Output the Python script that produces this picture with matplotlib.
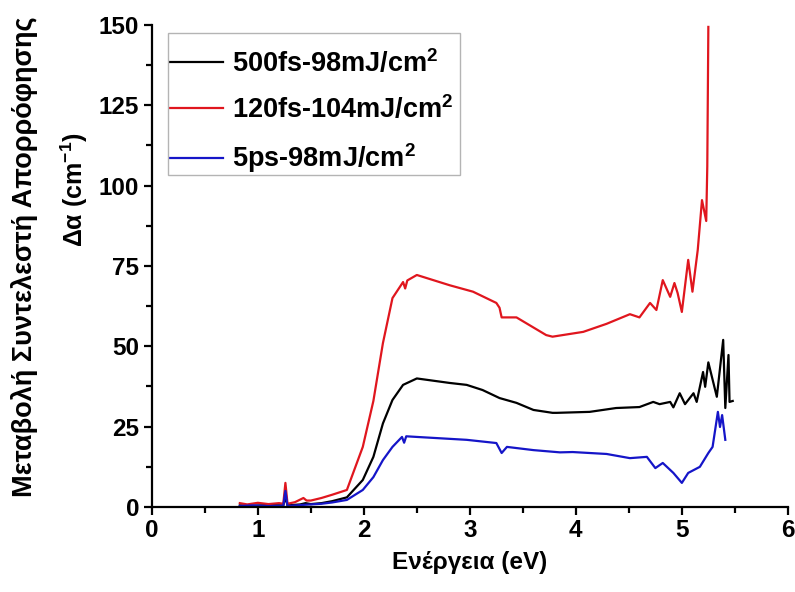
import numpy as np
import matplotlib.pyplot as plt
from matplotlib.patches import Rectangle

plt.rcParams['font.family'] = ['Liberation Sans', 'DejaVu Sans']
plt.rcParams['font.weight'] = 'bold'
plt.rcParams['mathtext.fontset'] = 'custom'
plt.rcParams['mathtext.rm'] = 'Liberation Sans:bold'
plt.rcParams['mathtext.it'] = 'Liberation Sans:bold'
plt.rcParams['mathtext.bf'] = 'Liberation Sans:bold'

# 500fs - 98 mJ/cm2
e_500fs = [0.83, 0.95, 1.10, 1.24, 1.26, 1.28, 1.40, 1.45, 1.50, 1.60, 1.70, 1.84, 1.99, 2.09,
           2.18, 2.27, 2.37, 2.50, 2.81, 2.97, 3.12, 3.28, 3.44, 3.60, 3.78, 3.82, 4.13, 4.38,
           4.60, 4.73, 4.79, 4.89, 4.92, 4.98, 5.03, 5.11, 5.14, 5.20, 5.22, 5.25, 5.33, 5.39,
           5.41, 5.44, 5.45, 5.48]
da_500fs = [0.5, 0.4, 0.6, 0.5, 3.0, 0.5, 0.8, 1.2, 0.9, 1.2, 1.8, 3.0, 8.4, 15.6,
            26.0, 33.3, 38.0, 40.0, 38.6, 38.0, 36.4, 33.9, 32.4, 30.2, 29.3, 29.3, 29.6, 30.8,
            31.1, 32.7, 32.0, 32.7, 31.0, 35.4, 32.0, 35.4, 32.7, 42.0, 37.4, 45.0, 34.3, 52.0,
            30.8, 47.3, 32.7, 33.0]

# 120fs - 104 mJ/cm2
e_120fs = [0.83, 0.90, 1.00, 1.10, 1.20, 1.24, 1.26, 1.28, 1.35, 1.43, 1.46, 1.50, 1.60, 1.70,
           1.84, 1.99, 2.09, 2.18, 2.27, 2.37, 2.39, 2.41, 2.50, 2.81, 3.03, 3.25, 3.28, 3.30,
           3.44, 3.72, 3.78, 4.07, 4.29, 4.51, 4.60, 4.70, 4.76, 4.82, 4.89, 4.93, 4.96, 5.00,
           5.06, 5.10, 5.15, 5.19, 5.23, 5.24, 5.25]
da_120fs = [1.2, 0.8, 1.3, 0.9, 1.2, 1.0, 7.5, 1.0, 1.5, 2.8, 2.0, 2.0, 2.8, 3.8,
            5.3, 18.7, 33.0, 51.0, 65.0, 70.0, 68.0, 70.5, 72.2, 69.0, 67.0, 63.5, 62.0, 59.0,
            59.0, 53.5, 53.0, 54.5, 57.0, 60.0, 59.0, 63.5, 61.3, 70.6, 65.4, 69.7, 66.6, 60.7,
            76.9, 67.0, 80.0, 95.5, 89.0, 106.0, 149.4]

# 5ps - 98 mJ/cm2
e_5ps = [0.83, 0.95, 1.10, 1.24, 1.26, 1.28, 1.40, 1.50, 1.60, 1.70, 1.84, 1.99, 2.09, 2.18,
         2.27, 2.36, 2.38, 2.40, 2.50, 2.97, 3.25, 3.30, 3.35, 3.60, 3.85, 3.97, 4.29, 4.51,
         4.67, 4.75, 4.82, 4.92, 5.00, 5.06, 5.17, 5.25, 5.29, 5.34, 5.36, 5.38, 5.41]
da_5ps = [0.3, 0.5, 0.3, 0.4, 5.0, 0.3, 0.6, 0.8, 1.0, 1.4, 2.2, 5.3, 9.3, 14.6,
          18.7, 21.8, 20.0, 22.0, 21.8, 20.9, 19.9, 16.8, 18.7, 17.7, 17.0, 17.1, 16.5, 15.2,
          15.6, 12.1, 13.7, 10.6, 7.5, 10.6, 12.5, 16.8, 18.7, 29.6, 24.9, 28.6, 20.9]

fig = plt.figure(figsize=(7.95, 5.92), dpi=100)
ax = fig.add_axes([0.191, 0.1436, 0.800, 0.8142])

ax.plot(e_500fs, da_500fs, color='black', lw=1.6, label=r'500fs-98mJ/cm$^{2}$')
ax.plot(e_120fs, da_120fs, color='#e0161e', lw=1.6, label=r'120fs-104mJ/cm$^{2}$')
ax.plot(e_5ps, da_5ps, color='#1515c8', lw=1.6, label=r'5ps-98mJ/cm$^{2}$')

ax.set_xlim(0, 6)
ax.set_ylim(0, 150)
ax.set_xticks(np.arange(0, 7, 1))
ax.set_xticks(np.arange(0.5, 6, 1), minor=True)
ax.set_yticks(np.arange(0, 151, 25))
ax.set_yticks(np.arange(12.5, 150, 25), minor=True)

for side in ['top', 'right']:
    ax.spines[side].set_visible(False)
for side in ['left', 'bottom']:
    ax.spines[side].set_linewidth(1.6)
ax.tick_params(which='major', direction='out', length=6, width=1.6, labelsize=17.5, pad=3)
ax.tick_params(which='minor', direction='out', length=4, width=1.6)

ax.set_xlabel('Ενέργεια (eV)', fontsize=17.5, fontweight='bold', labelpad=6)
fig.text(0.031, 0.566, 'Μεταβολή Συντελεστή Απορρόφησης', rotation=90,
         ha='center', va='center', fontsize=19.5, fontweight='bold')
fig.text(0.094, 0.679, r'Δα (cm$^{-1}$)', rotation=90,
         ha='center', va='center', fontsize=18, fontweight='bold')

# legend text without its own frame, boxed by a thin grey rectangle
leg = ax.legend(loc='upper left', bbox_to_anchor=(170 / 795, 1 - 49 / 592),
                bbox_transform=fig.transFigure, borderaxespad=0, borderpad=0,
                fontsize=19.5, handlelength=1.95, handletextpad=0.33, labelspacing=0.64,
                frameon=False)
fig.patches.append(Rectangle((168 / 795, 1 - 175 / 592), 292 / 795, 142 / 592,
                             transform=fig.transFigure, fill=False,
                             edgecolor='#b4b4b4', lw=1.0))

fig.savefig('out.png', dpi=100)
